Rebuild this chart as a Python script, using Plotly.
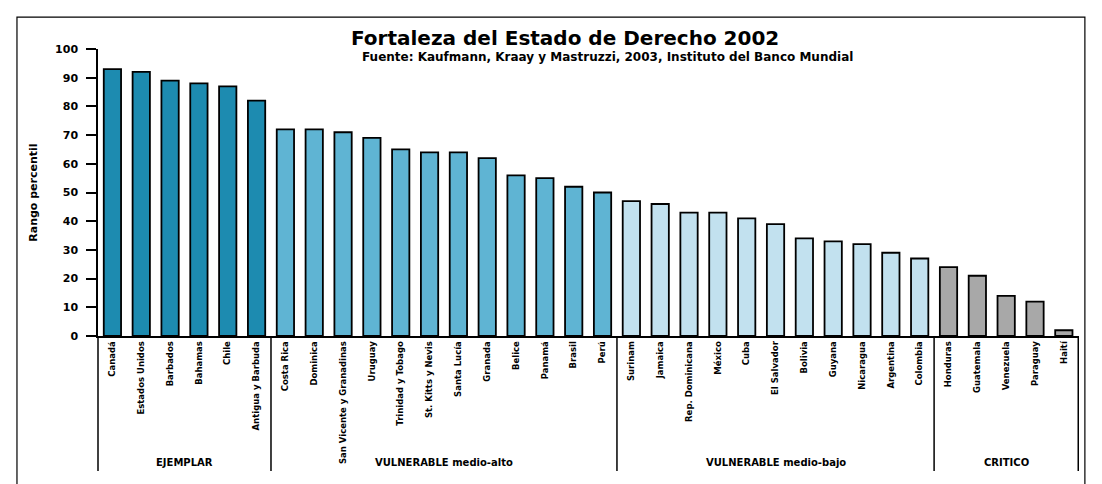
import plotly.graph_objects as go

title = "Fortaleza del Estado de Derecho 2002"
subtitle = "Fuente: Kaufmann, Kraay y Mastruzzi, 2003, Instituto del Banco Mundial"
y_title = "Rango percentil"

groups = ["EJEMPLAR", "VULNERABLE medio-alto", "VULNERABLE medio-bajo", "CRITICO"]
group_colors = ["#1d8bb0", "#5fb4d3", "#c2e1ef", "#a8a8a8"]

countries_g1 = ["Canadá", "Estados Unidos", "Barbados", "Bahamas", "Chile", "Antigua y Barbuda"]
values_g1 = [93, 92, 89, 88, 87, 82]

countries_g2 = ["Costa Rica", "Dominica", "San Vicente y Granadinas", "Uruguay",
                "Trinidad y Tobago", "St. Kitts y Nevis", "Santa Lucía", "Granada",
                "Belice", "Panamá", "Brasil", "Perú"]
values_g2 = [72, 72, 71, 69, 65, 64, 64, 62, 56, 55, 52, 50]

countries_g3 = ["Surinam", "Jamaica", "Rep. Dominicana", "México", "Cuba",
                "El Salvador", "Bolivia", "Guyana", "Nicaragua", "Argentina", "Colombia"]
values_g3 = [47, 46, 43, 43, 41, 39, 34, 33, 32, 29, 27]

countries_g4 = ["Honduras", "Guatemala", "Venezuela", "Paraguay", "Haití"]
values_g4 = [24, 21, 14, 12, 2]

y_ticks = list(range(0, 101, 10))

all_countries = [countries_g1, countries_g2, countries_g3, countries_g4]
all_values = [values_g1, values_g2, values_g3, values_g4]

font_family = "DejaVu Sans, Verdana, sans-serif"
BOX_BOTTOM = -0.47   # paper y of the bottom of the category box

fig = go.Figure()
shapes = []
annotations = []
start = 0
for g, color, cs, vs in zip(groups, group_colors, all_countries, all_values):
    fig.add_trace(go.Bar(
        x=cs, y=vs,
        marker=dict(color=color, line=dict(color="black", width=1.8)),
        showlegend=False, hoverinfo="x+y",
    ))
    end = start + len(cs)
    shapes.append(dict(type="line", xref="x", yref="paper",
                       x0=end - 0.5, x1=end - 0.5, y0=0, y1=BOX_BOTTOM,
                       line=dict(color="black", width=1.5)))
    annotations.append(dict(text=g, xref="x", yref="paper",
                            x=(start + end - 1) / 2, y=-0.44,
                            showarrow=False, xanchor="center", yanchor="middle",
                            font=dict(size=10, family=font_family, weight="bold")))
    start = end

shapes.append(dict(type="line", xref="paper", yref="paper", x0=0, x1=0, y0=0, y1=BOX_BOTTOM,
                   line=dict(color="black", width=1.5)))
shapes.append(dict(type="rect", xref="paper", yref="paper", x0=-0.0826, x1=1.006, y0=-0.6, y1=1.111,
                   line=dict(color="black", width=1.2), fillcolor="rgba(0,0,0,0)", layer="below"))

annotations += [
    dict(text=title, xref="paper", yref="paper", x=0.476, y=1.04,
         showarrow=False, xanchor="center", yanchor="middle",
         font=dict(size=20, family=font_family, weight="bold")),
    dict(text=subtitle, xref="paper", yref="paper", x=0.519, y=0.972,
         showarrow=False, xanchor="center", yanchor="middle",
         font=dict(size=12, family=font_family, weight="bold")),
    dict(text=y_title, xref="paper", yref="paper", x=-0.066, y=0.5, textangle=-90,
         showarrow=False, xanchor="center", yanchor="middle",
         font=dict(size=11, family=font_family, weight="bold")),
]

fig.update_layout(
    width=1094, height=476,
    margin=dict(l=90, r=23, t=41, b=148, autoexpand=False),
    paper_bgcolor="white", plot_bgcolor="white",
    bargap=0.4,
    font=dict(family=font_family, color="black"),
    xaxis=dict(
        type="category",
        showline=True, linecolor="black", linewidth=1.5,
        tickangle=-90, tickfont=dict(size=8.5, family=font_family, weight="bold"),
        ticks="", showgrid=False,
    ),
    yaxis=dict(
        range=[0, 100], tickvals=y_ticks, ticktext=[str(v) for v in y_ticks],
        showline=True, linecolor="black", linewidth=1.5,
        ticks="outside", ticklen=10, tickwidth=1.5, tickcolor="black",
        ticklabelstandoff=6,
        showgrid=False, zeroline=False,
        tickfont=dict(size=11, family=font_family, weight="bold"),
    ),
    annotations=annotations,
    shapes=shapes,
)

fig.write_html("out.html")
